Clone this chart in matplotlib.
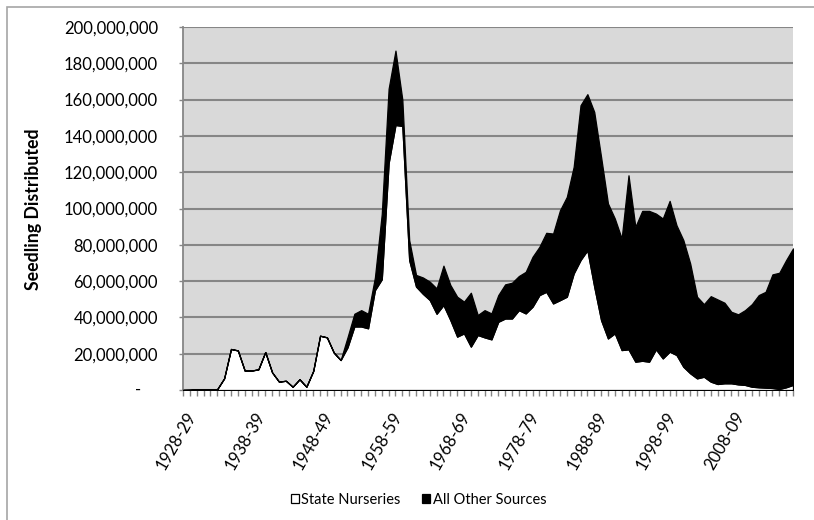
import matplotlib
matplotlib.use("Agg")
import matplotlib.pyplot as plt
from matplotlib.patches import Patch, Rectangle
from matplotlib.ticker import FuncFormatter, MultipleLocator
import matplotlib.transforms as mtransforms

plt.rcParams['font.family'] = ['Lato', 'DejaVu Sans']

# Categories: fiscal years 1928-29 .. 2017-18
start_years = list(range(1928, 2018))
years = [f"{y}-{(y + 1) % 100:02d}" for y in start_years]

# Seedlings distributed, millions
state_nurseries = [
    0, 0.1, 0.4, 0.4, 0.4, 0.5, 6.4, 22.6, 21.8, 10.7,
    10.7, 11.4, 20.9, 9.7, 4.6, 5.1, 1.8, 5.9, 1.8, 10.5,
    29.9, 29.0, 20.6, 16.5, 23.5, 35, 35, 34, 55, 61,
    125, 146, 145.5, 71.6, 57, 53, 49.6, 42, 46.8, 38.6,
    29.4, 31.2, 23.9, 30.3, 29, 27.9, 37.6, 39.4, 39.4, 44,
    42.2, 45.9, 52.3, 54.1, 47.7, 49.5, 51.4, 64.2, 71.6, 77,
    56.9, 38.5, 28.4, 31.2, 22, 22.4, 15.6, 16.1, 15.6, 22.4,
    17.4, 21.1, 19.3, 12.8, 9.2, 6.4, 7.3, 4.6, 3.3, 3.7,
    3.7, 3.1, 2.8, 1.8, 1.5, 1.3, 1.1, 0.6, 1.5, 2.8,
]
all_other_sources = [
    0, 0, 0, 0, 0, 0, 0, 0, 0, 0,
    0, 0, 0, 0, 0, 0, 0, 0, 0, 0,
    0, 0, 0, 0, 5.5, 7, 9, 8, 7, 36,
    41, 41, 14.5, 11, 6.4, 9, 10.1, 14, 21.7, 19.3,
    22, 17.5, 29.7, 11, 15, 14.3, 14.7, 18.8, 19.7, 18.8,
    22.9, 27.5, 26.6, 32.5, 38.5, 49.5, 55, 58.8, 85.3, 86,
    96.3, 89.9, 74.4, 63.3, 61.5, 95.9, 74.3, 82.6, 83.1, 74.8,
    77.1, 83.1, 71.5, 69.8, 60.5, 45, 40, 47.1, 46.6, 44.4,
    39.4, 38.6, 41.2, 45.5, 50.8, 52.8, 62.6, 64, 70.1, 75.2,
]
series_names = ["State Nurseries", "All Other Sources"]
y_title = "Seedling Distributed"

state_vals = [v * 1e6 for v in state_nurseries]
other_vals = [v * 1e6 for v in all_other_sources]
x = list(range(len(years)))

W, H = 814, 520
fig = plt.figure(figsize=(W / 100, H / 100), dpi=100)
renderer = fig.canvas.get_renderer()


def fit_size(text, target_px, weight='normal'):
    t = fig.text(0, 0, text, fontsize=10, fontweight=weight)
    w = t.get_window_extent(renderer).width
    t.remove()
    return 10 * target_px / w


tick_fs = fit_size("200,000,000", 94)
legend_fs = fit_size("All Other Sources", 113)
title_fs = fit_size(y_title, 162, weight='bold')

ax = fig.add_axes([183 / W, 1 - 390 / H, 610 / W, 363 / H])
ax.set_facecolor('#D9D9D9')

grid_c = '#868686'
ax.stackplot(x, state_vals, other_vals, colors=['white', 'black'],
             edgecolor='black', linewidth=0.9, zorder=3)

ax.set_xlim(0, len(years) - 1)
ax.set_ylim(0, 200e6)
ax.yaxis.set_major_locator(MultipleLocator(20e6))
ax.yaxis.set_major_formatter(FuncFormatter(lambda v, p: '' if v == 0 else f"{v:,.0f}"))
ax.grid(axis='y', color=grid_c, linewidth=1.5, zorder=1)
ax.set_axisbelow(True)

ax.set_xticks(x, minor=True)
major = x[::10]
ax.set_xticks(major)
ax.set_xticklabels([years[i] for i in major], rotation=60, ha='right', va='top',
                   rotation_mode='anchor', fontsize=tick_fs, color='black')
ax.tick_params(axis='x', which='both', direction='out', length=4, width=1,
               color=grid_c, pad=10)
ax.tick_params(axis='y', direction='out', length=3, width=1, color=grid_c,
               labelsize=tick_fs, pad=15)
shift = mtransforms.ScaledTranslation(2.5 / 100, 0, fig.dpi_scale_trans)
for lbl in ax.get_xticklabels():
    lbl.set_transform(lbl.get_transform() + shift)

for s in ['top', 'right']:
    ax.spines[s].set_visible(False)
for s in ['left', 'bottom']:
    ax.spines[s].set_color(grid_c)
    ax.spines[s].set_linewidth(1.3)

# zero label shown as dash
trans = mtransforms.blended_transform_factory(fig.transFigure, ax.transData)
ax.text(141 / W, 0, '-', transform=trans, ha='right', va='center', fontsize=tick_fs)

ax.set_ylabel(y_title, fontsize=title_fs, fontweight='bold')
ax.yaxis.set_label_coords(42 / W, 1 - 209 / H, transform=fig.transFigure)

handles = [Patch(facecolor='white', edgecolor='black', linewidth=0.9),
           Patch(facecolor='black', edgecolor='black', linewidth=0.9)]
fig.legend(handles, series_names, loc='center', bbox_to_anchor=(418.5 / W, 1 - 500 / H),
           ncol=2, frameon=False, fontsize=legend_fs, handlelength=0.55, handleheight=0.55,
           handletextpad=0.15, columnspacing=1.5, borderpad=0, borderaxespad=0)

fig.patches.append(Rectangle((7 / W, -0.01), 1.1, 1 - 7 / H + 0.01,
                             transform=fig.transFigure, fill=False,
                             edgecolor='#A6A6A6', linewidth=1.2))

fig.savefig('out.png', dpi=100)
